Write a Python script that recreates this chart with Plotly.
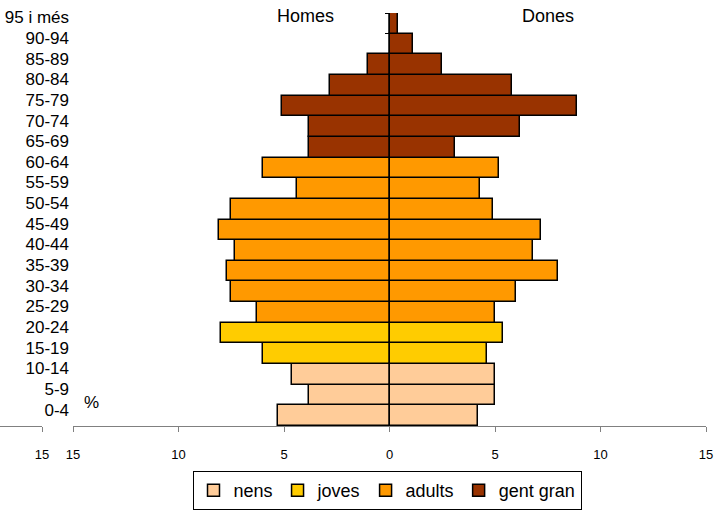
import plotly.graph_objects as go

# piràmide d'edats: homes (esquerra) i dones (dreta), en %
EDATS = ["0-4", "5-9", "10-14", "15-19", "20-24", "25-29", "30-34", "35-39",
         "40-44", "45-49", "50-54", "55-59", "60-64", "65-69", "70-74",
         "75-79", "80-84", "85-89", "90-94", "95 i més"]
HOMES = [5.3, 3.8, 4.6, 6.0, 8.0, 6.3, 7.5, 7.7, 7.3, 8.1,
         7.5, 4.4, 6.0, 3.8, 3.8, 5.1, 2.8, 1.0, 0.0, 0.0]
DONES = [4.2, 5.0, 5.0, 4.6, 5.4, 5.0, 6.0, 8.0, 6.8, 7.2,
         4.9, 4.3, 5.2, 3.1, 6.2, 8.9, 5.8, 2.5, 1.1, 0.4]

GRUPS = ["nens", "joves", "adults", "gent gran"]
GRUP_RANG = {"nens": (0, 3), "joves": (3, 5), "adults": (5, 13), "gent gran": (13, 20)}
COLORS = {"nens": "#FFCC99", "joves": "#FFCC00", "adults": "#FF9900", "gent gran": "#993300"}

X_TICKS = [-15, -10, -5, 0, 5, 10, 15]
FONT = "Liberation Sans, Arial, sans-serif"

W, H = 714, 510
PLOT_L, PLOT_R, PLOT_T, PLOT_B = 73, 706, 13, 427

fig = go.Figure()
for g in GRUPS:
    a, b = GRUP_RANG[g]
    fig.add_trace(go.Bar(y=EDATS[a:b], x=[-v for v in HOMES[a:b]], orientation="h",
                         name=g, legendgroup=g, marker_color=COLORS[g],
                         marker_line=dict(color="black", width=1.5)))
for g in GRUPS:
    a, b = GRUP_RANG[g]
    fig.add_trace(go.Bar(y=EDATS[a:b], x=DONES[a:b], orientation="h",
                         name=g, legendgroup=g, showlegend=False,
                         marker_color=COLORS[g],
                         marker_line=dict(color="black", width=1.5)))

# eix petit solt a l'esquerra (com a l'original)
fig.add_trace(go.Scatter(x=[], y=[], xaxis="x2", yaxis="y", showlegend=False,
                         hoverinfo="skip"))
# marques de l'eix de categories al centre
fig.add_trace(go.Scatter(x=[], y=[], xaxis="x", yaxis="y2", showlegend=False,
                         hoverinfo="skip"))

x_dom0 = PLOT_L / PLOT_R
ann_y = lambda py: (PLOT_B - py) / (PLOT_B - PLOT_T)

fig.update_layout(
    width=W, height=H,
    margin=dict(l=0, r=W - PLOT_R, t=PLOT_T, b=H - PLOT_B),
    paper_bgcolor="white", plot_bgcolor="white",
    barmode="relative", bargap=0,
    font=dict(family=FONT, color="black"),
    xaxis=dict(domain=[x_dom0, 1], range=[-15, 15], tickvals=X_TICKS,
               ticktext=[str(abs(v)) for v in X_TICKS],
               showgrid=False, zeroline=True, zerolinecolor="black", zerolinewidth=2,
               showline=True, linecolor="#808080", linewidth=1,
               ticks="outside", ticklen=5, tickcolor="#808080",
               tickfont=dict(size=13), ticklabelstandoff=11,
               anchor="y", automargin=False),
    xaxis2=dict(domain=[0, 42 / PLOT_R], range=[0, 15], tickvals=[15], ticktext=["15"],
                showgrid=False, zeroline=False, showline=True, linecolor="#808080",
                ticks="outside", ticklen=5, tickcolor="#808080",
                tickfont=dict(size=13), ticklabelstandoff=11,
                anchor="y", automargin=False),
    yaxis=dict(type="category", categoryorder="array", categoryarray=EDATS,
               range=[-0.5, len(EDATS) - 0.5], showgrid=False, zeroline=False,
               showline=False, ticks="", tickfont=dict(size=17),
               ticklabelshift=-6, ticklabelstandoff=3, anchor="x", automargin=False),
    yaxis2=dict(overlaying="y", anchor="free", position=(389 / PLOT_R),
                range=[-0.5, len(EDATS) - 0.5],
                tickvals=[k - 0.5 for k in range(len(EDATS) + 1)],
                showticklabels=False, ticks="outside", ticklen=4, tickcolor="black",
                showgrid=False, zeroline=False, showline=False, layer="below traces",
                automargin=False),
    legend=dict(orientation="h", x=387 / PLOT_R, xanchor="center",
                y=ann_y(472), yanchor="top",
                bordercolor="black", borderwidth=1, bgcolor="white",
                font=dict(size=18), traceorder="normal"),
    annotations=[
        dict(text="Homes", x=-4.0, xref="x", y=ann_y(16), yref="paper",
             showarrow=False, font=dict(size=18), yanchor="middle"),
        dict(text="Dones", x=7.5, xref="x", y=ann_y(16), yref="paper",
             showarrow=False, font=dict(size=18), yanchor="middle"),
        dict(text="%", x=-14.1, xref="x", y=ann_y(403), yref="paper",
             showarrow=False, font=dict(size=17), yanchor="middle"),
    ],
)

# el navegador afegeix 8px de marge al body; el traiem perquè la figura ocupi la finestra
fig.write_html("out.html", config={"displayModeBar": False},
               post_script="document.body.style.margin = '0';")
